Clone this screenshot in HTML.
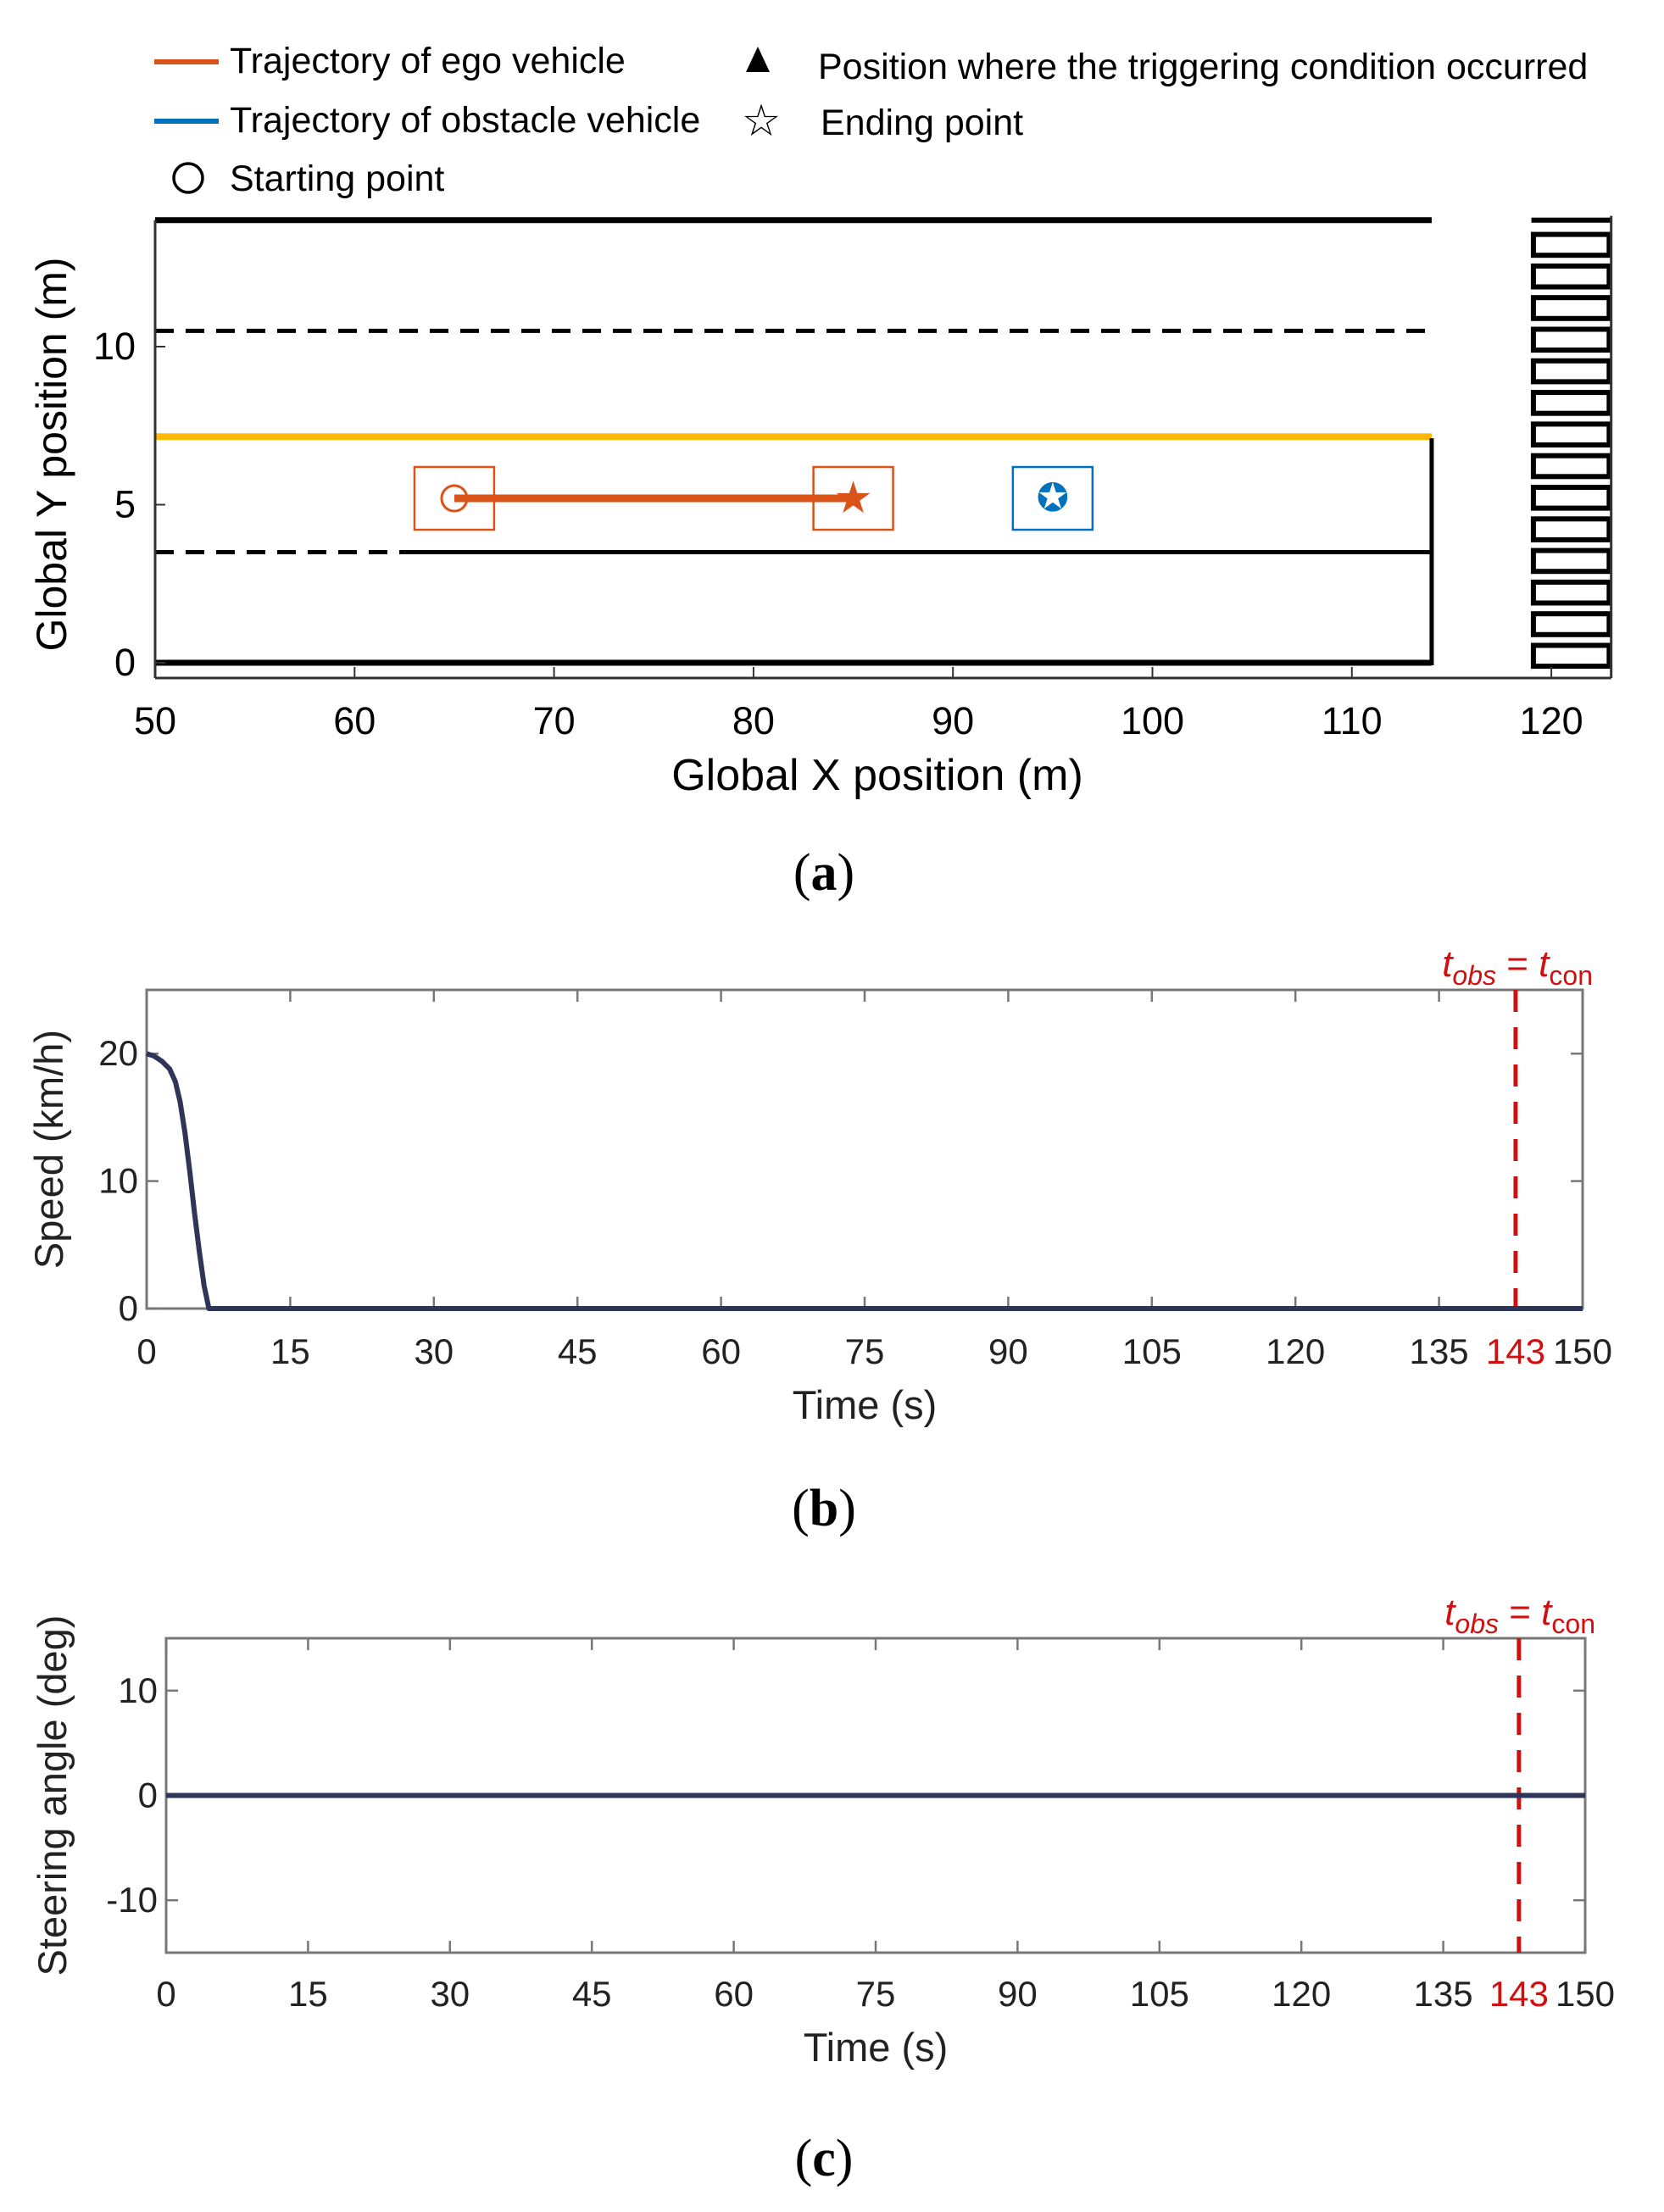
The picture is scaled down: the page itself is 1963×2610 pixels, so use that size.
<!DOCTYPE html>
<html><head><meta charset="utf-8"><style>
body{margin:0;background:#fff;}
svg{display:block;font-family:"Liberation Sans",Arial,sans-serif;}
</style></head><body>
<svg id="fig" width="1963" height="2610" viewBox="0 0 1963 2610" xmlns="http://www.w3.org/2000/svg">
<g id="legend" font-size="43">
 <g><line x1="182" y1="73" x2="258" y2="73" stroke="#d95319" stroke-width="6"/><text x="271" y="86">Trajectory of ego vehicle</text></g>
 <g><line x1="182" y1="143" x2="258" y2="143" stroke="#0072bd" stroke-width="6"/><text x="271" y="156">Trajectory of obstacle vehicle</text></g>
 <g><circle cx="222" cy="210" r="17" fill="none" stroke="#000" stroke-width="3.5"/><text x="271" y="225">Starting point</text></g>
 <g><polygon points="894,55 880,85 908,85" fill="#000"/><text x="965" y="93">Position where the triggering condition occurred</text></g>
 <g><text x="898" y="160" font-size="52" text-anchor="middle">☆</text><text x="968" y="159">Ending point</text></g>
</g>
<g id="chartA"></g>
<text x="972" y="1050" font-family="Liberation Serif,serif" font-size="62" text-anchor="middle">(<tspan font-weight="bold">a</tspan>)</text>
<g id="chartB"></g>
<text x="972" y="1800" font-family="Liberation Serif,serif" font-size="62" text-anchor="middle">(<tspan font-weight="bold">b</tspan>)</text>
<g id="chartC"></g>
<text x="972" y="2567" font-family="Liberation Serif,serif" font-size="62" text-anchor="middle">(<tspan font-weight="bold">c</tspan>)</text>
</svg>
<script>
const xTicksA=[50,60,70,80,90,100,110,120];
const yTicksA=[0,5,10];
const egoX=[65,85];
const egoY=[5.2,5.2];
const obsX=[95];
const obsY=[5.2];
const speedT=[0,0.8,1.6,2.4,3,3.5,4,4.5,5,5.5,6,6.5,150];
const speedV=[20,19.8,19.4,18.8,17.8,16.2,13.8,10.8,7.5,4.5,1.8,0,0];
const steerT=[0,150];
const steerV=[0,0];
const timeTicks=[0,15,30,45,60,75,90,105,120,135,150];
const tEvent=143;
const speedTicks=[0,10,20];
const steerTicks=[-10,0,10];
const NS="http://www.w3.org/2000/svg";
function mk(p,tag,at,txt){const e=document.createElementNS(NS,tag);for(const k in at)e.setAttribute(k,at[k]);if(txt!==undefined)e.textContent=txt;p.appendChild(e);return e;}
const A=document.getElementById('chartA');
const ax=v=>183+(v-50)*23.53, ay=v=>782-v*37.3;
const road=[[50,114,14,'#000',7,''],[50,114,10.5,'#000',5,'22,14'],[50,62.5,3.5,'#000',5,'22,14'],[62.5,114,3.5,'#000',5,''],[50,114,0,'#000',7,'']];
road.forEach((r,i)=>{const l=mk(A,'line',{x1:ax(r[0]),x2:ax(r[1]),y1:ay(r[2]),y2:ay(r[2]),stroke:r[3],'stroke-width':r[4],'stroke-dasharray':r[5]});

});
mk(A,'line',{x1:ax(50),x2:ax(114),y1:ay(7.15),y2:ay(7.15),stroke:'#ffb800','stroke-width':8});
mk(A,'line',{x1:ax(114),x2:ax(114),y1:ay(7.1),y2:ay(0)+3,stroke:'#000','stroke-width':5});
for(let k=0;k<14;k++){const r=mk(A,'rect',{x:ax(119.1),y:ay(13.55-k),width:ax(122.9)-ax(119.1),height:0.66*37.3,fill:'none',stroke:'#000','stroke-width':6});

}
mk(A,'line',{x1:ax(119),x2:ax(123),y1:ay(14),y2:ay(14),stroke:'#000','stroke-width':6});
mk(A,'line',{x1:ax(50),x2:ax(123),y1:800,y2:800,stroke:'#333','stroke-width':3});
mk(A,'line',{x1:ax(50),x2:ax(50),y1:ay(14),y2:800,stroke:'#333','stroke-width':3});
mk(A,'line',{x1:ax(123),x2:ax(123),y1:ay(14)-5,y2:800,stroke:'#333','stroke-width':3});
xTicksA.forEach(v=>{mk(A,'line',{x1:ax(v),x2:ax(v),y1:800,y2:787,stroke:'#333','stroke-width':2});
const t=mk(A,'text',{x:ax(v),y:866,'font-size':45,'text-anchor':'middle'},v);

});
yTicksA.forEach(v=>{mk(A,'line',{x1:ax(50),x2:ax(50)+12,y1:ay(v),y2:ay(v),stroke:'#333','stroke-width':2});
const t=mk(A,'text',{x:160,y:ay(v)+15,'font-size':45,'text-anchor':'end'},v);

});
mk(A,'text',{x:1035,y:932,'font-size':52,'text-anchor':'middle',},'Global X position (m)');
mk(A,'text',{transform:'translate(78,536) rotate(-90)','font-size':50,'text-anchor':'middle',},'Global Y position (m)');
mk(A,'line',{x1:ax(egoX[0]),x2:ax(egoX[1]),y1:ay(egoY[0]),y2:ay(egoY[1]),stroke:'#d95319','stroke-width':9,});
function box(g,x,y,c){mk(g,'rect',{x:ax(x)-47,y:ay(y)-37,width:94,height:74,fill:'none',stroke:c,'stroke-width':2.5});}
box(A,egoX[0],egoY[0],'#d95319');box(A,egoX[1],egoY[1],'#d95319');box(A,obsX[0],obsY[0],'#0072bd');
mk(A,'circle',{cx:ax(egoX[0]),cy:ay(egoY[0]),r:15,fill:'none',stroke:'#d95319','stroke-width':3,});
mk(A,'text',{x:ax(egoX[1]),y:ay(egoY[1])+17,'font-size':52,fill:'#d95319','text-anchor':'middle',},'★');
mk(A,'text',{x:ax(obsX[0]),y:ay(obsY[0])+15,'font-size':46,fill:'#0072bd','text-anchor':'middle',},'✪');
function timeChart(id,L,R,T,B,ymin,ymax,yticks,tt,vv,ylab,labX,tickY){
 const g=document.getElementById(id);
 const sx=v=>L+v/150*(R-L), sy=v=>B-(v-ymin)/(ymax-ymin)*(B-T);
 mk(g,'rect',{x:L,y:T,width:R-L,height:B-T,fill:'none',stroke:'#777','stroke-width':3});
 timeTicks.forEach(v=>{mk(g,'line',{x1:sx(v),x2:sx(v),y1:B,y2:B-14,stroke:'#777','stroke-width':2.5});
 mk(g,'line',{x1:sx(v),x2:sx(v),y1:T,y2:T+14,stroke:'#777','stroke-width':2.5});
 const t=mk(g,'text',{x:sx(v),y:tickY,'font-size':42,'text-anchor':'middle',fill:'#222'},v);
 
 });
 mk(g,'text',{x:sx(tEvent),y:tickY,'font-size':42,'text-anchor':'middle',fill:'#d01010',},tEvent);
 yticks.forEach(v=>{mk(g,'line',{x1:L,x2:L+14,y1:sy(v),y2:sy(v),stroke:'#777','stroke-width':2.5});
 mk(g,'line',{x1:R,x2:R-14,y1:sy(v),y2:sy(v),stroke:'#777','stroke-width':2.5});
 const t=mk(g,'text',{x:L-10,y:sy(v)+14,'font-size':42,'text-anchor':'end',fill:'#222'},v);
 
 });
 mk(g,'line',{x1:sx(tEvent),x2:sx(tEvent),y1:T,y2:B,stroke:'#d01010','stroke-width':5,'stroke-dasharray':'26,18',});
 mk(g,'path',{d:tt.map((t,i)=>(i?'L':'M')+sx(t)+','+sy(vv[i])).join(''),fill:'none',stroke:'#2e3558','stroke-width':6,'stroke-linejoin':'round',});
 const a=mk(g,'text',{x:R+12,y:T-16,'font-size':44,'text-anchor':'end',fill:'#d01010',});
 a.innerHTML='<tspan font-style="italic">t</tspan><tspan font-style="italic" font-size="32" dy="10">obs</tspan><tspan dy="-10"> = </tspan><tspan font-style="italic">t</tspan><tspan font-size="32" dy="10">con</tspan>';
 mk(g,'text',{x:(L+R)/2,y:tickY+65,'font-size':47,'text-anchor':'middle',fill:'#222',},'Time (s)');
 mk(g,'text',{transform:`translate(${labX},${(T+B)/2}) rotate(-90)`,'font-size':47,'text-anchor':'middle',fill:'#222',},ylab);
}
timeChart('chartB',173,1867,1168,1544,0,25,speedTicks,speedT,speedV,'Speed (km/h)',74,1609);
timeChart('chartC',196,1870,1933,2304,-15,15,steerTicks,steerT,steerV,'Steering angle (deg)',78,2367);
</script>
</body></html>
